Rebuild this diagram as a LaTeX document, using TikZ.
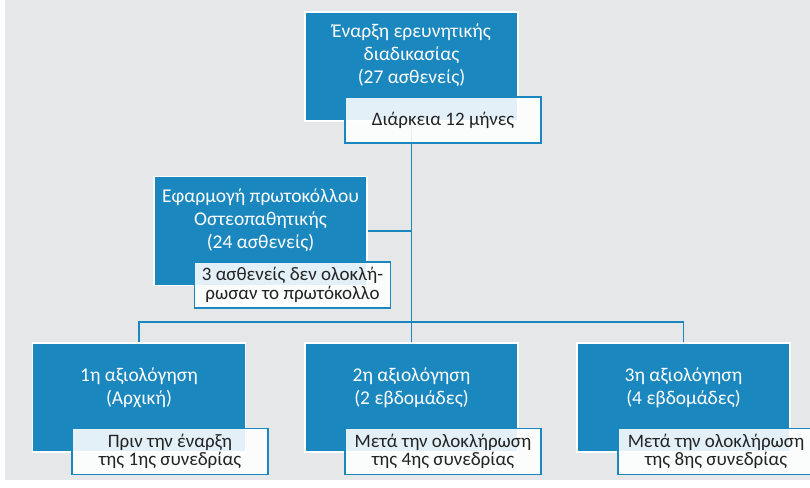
\documentclass[tikz,border=0pt]{standalone}
\usepackage{fontspec}
\setmainfont{Carlito}
\usetikzlibrary{backgrounds}
\definecolor{boxblue}{RGB}{27,135,191}
\definecolor{pagegray}{RGB}{230,231,233}
\definecolor{notetext}{RGB}{35,35,35}
\tikzset{
  stagebox/.style={draw=white, line width=1.5pt, fill=boxblue, minimum width=213pt, minimum height=109pt, inner sep=0pt},
  stagetext/.style={text=white, align=center, font=\fontsize{19.5}{23}\selectfont},
  notebox/.style={draw=boxblue, line width=1.2pt, fill=white, fill opacity=0.88, text opacity=1, text=notetext,
    minimum width=196pt, minimum height=46pt, inner sep=0pt, align=center, font=\fontsize{19}{18.5}\selectfont},
  link/.style={draw=boxblue, line width=1.5pt}
}
\begin{document}
\begin{tikzpicture}[x=1pt,y=-1pt]
    \useasboundingbox (0,0) rectangle (810,487);

    \node[stagebox] (start) at (411.5,66.5) {};
    \node[stagetext] (startT) at (411.5,55) {Έναρξη ερευνητικής\\διαδικασίας\\(27 ασθενείς)};
    \node[notebox] (dur) at (443,120) {Διάρκεια 12 μήνες};

    \node[stagebox] (proto) at (260.5,231) {};
    \node[stagetext] (protoT) at (260.5,220) {Εφαρμογή πρωτοκόλλου\\Οστεοπαθητικής\\(24 ασθενείς)};
    \node[notebox] (drop) at (292.5,285) {3 ασθενείς δεν ολοκλή-\\ρωσαν το πρωτόκολλο};

    \node[stagebox] (evalA) at (139,397.5) {};
    \node[stagetext] (evalAT) at (139,388) {1η αξιολόγηση\\(Αρχική)};
    \node[notebox] (noteA) at (170,451.5) {Πριν την έναρξη\\της 1ης συνεδρίας};

    \node[stagebox] (evalB) at (411.5,397.5) {};
    \node[stagetext] (evalBT) at (411.5,388) {2η αξιολόγηση\\(2 εβδομάδες)};
    \node[notebox] (noteB) at (443,451.5) {Μετά την ολοκλήρωση\\της 4ης συνεδρίας};

    \node[stagebox] (evalC) at (683.5,397.5) {};
    \node[stagetext] (evalCT) at (683.5,388) {3η αξιολόγηση\\(4 εβδομάδες)};
    \node[notebox] (noteC) at (716,451.5) {Μετά την ολοκλήρωση\\της 8ης συνεδρίας};

    \coordinate (join) at (411.5,322);

    \begin{scope}[on background layer]
        \fill[pagegray] (5,0) rectangle (810,480);
        \draw[link] (start.south) -- (join);
        \draw[link] (proto.east) -- (proto.east -| join);
        \draw[link] (evalA.north) |- (join) -| (evalC.north);
        \draw[link] (join) -- (evalB.north);
    \end{scope}
\end{tikzpicture}
\end{document}
